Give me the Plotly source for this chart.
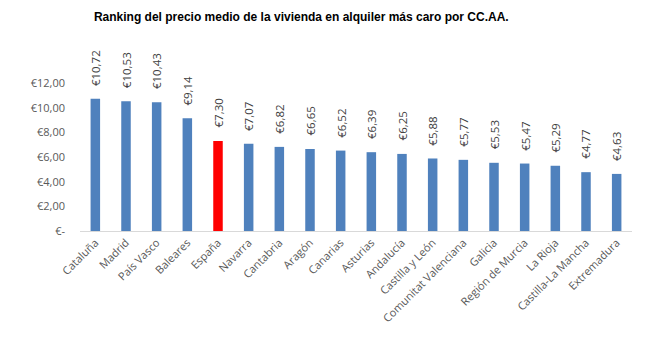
import plotly.graph_objects as go

regions = ["Cataluña", "Madrid", "País Vasco", "Baleares", "España", "Navarra", "Cantabria",
           "Aragón", "Canarias", "Asturias", "Andalucía", "Castilla y León",
           "Comunitat Valenciana", "Galicia", "Región de Murcia", "La Rioja",
           "Castilla-La Mancha", "Extremadura"]
prices = [10.72, 10.53, 10.43, 9.14, 7.30, 7.07, 6.82, 6.65, 6.52, 6.39, 6.25, 5.88,
          5.77, 5.53, 5.47, 5.29, 4.77, 4.63]
highlight = "España"
tick_vals = [0, 2, 4, 6, 8, 10, 12]
tick_text = ["€-", "€2,00", "€4,00", "€6,00", "€8,00", "€10,00", "€12,00"]

colors = ["#FF0000" if r == highlight else "#4F81BD" for r in regions]
labels = ["€" + f"{v:.2f}".replace(".", ",") for v in prices]

fig = go.Figure(go.Bar(
    x=regions, y=prices, marker_color=colors, marker_line_width=0,
))

for r, v, t in zip(regions, prices, labels):
    fig.add_annotation(x=r, y=v, text=t, textangle=-90, showarrow=False,
                       xanchor="center", yanchor="bottom", yshift=11,
                       font=dict(family="Open Sans, Arial", size=11.5, color="#404040"))

fig.update_layout(
    width=648, height=337,
    margin=dict(l=80, r=16, t=83, b=106),
    paper_bgcolor="white", plot_bgcolor="white",
    bargap=0.69,
    showlegend=False,
    title=dict(text="<b>Ranking del precio medio de la vivienda en alquiler más caro por CC.AA.</b>",
               x=0.465, xanchor="center", y=0.95, yanchor="middle",
               font=dict(family="Liberation Sans, Arial", size=12, color="#000000")),
    xaxis=dict(tickangle=-45, showline=True, linecolor="#D9D9D9", linewidth=1,
               ticks="", tickfont=dict(family="Open Sans, Arial", size=11, color="#595959")),
    yaxis=dict(range=[0, 12], tickvals=tick_vals, ticktext=tick_text, showgrid=False,
               zeroline=False, showline=False, ticks="", ticklabelstandoff=14,
               tickfont=dict(family="Open Sans, Arial", size=11, color="#595959")),
)

fig.write_html("out.html")
